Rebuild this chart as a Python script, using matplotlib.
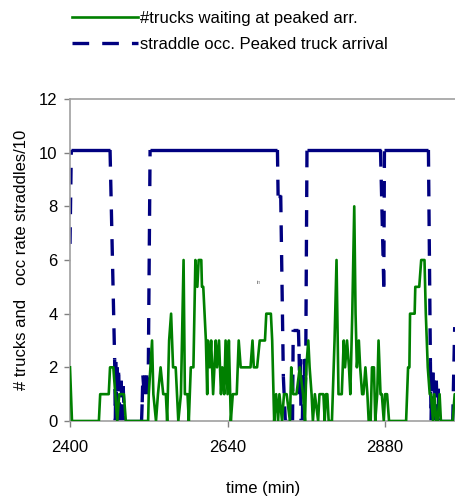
import numpy as np
import matplotlib
matplotlib.use("Agg")
import matplotlib.pyplot as plt
from matplotlib.collections import LineCollection
from matplotlib.lines import Line2D

plt.rcParams['font.family'] = ['Liberation Sans', 'DejaVu Sans']
plt.rcParams['lines.scale_dashes'] = False

# trucks waiting at peaked arrival (time in min, count)
green_t = [2400, 2403, 2444, 2446, 2459, 2461, 2466, 2469, 2472, 2475, 2482, 2485,
           2519, 2520, 2525, 2527, 2531, 2534, 2538, 2542, 2546, 2548, 2551, 2554,
           2557, 2561, 2565, 2569, 2573, 2575, 2579, 2581, 2584, 2588, 2591, 2594,
           2596, 2600, 2601, 2603, 2605, 2607, 2609, 2610, 2613, 2615, 2618, 2620,
           2622, 2624, 2627, 2630, 2632, 2635, 2637, 2640, 2642, 2645, 2648, 2654,
           2657, 2660, 2675, 2678, 2680, 2685, 2689, 2697, 2699, 2706, 2708, 2711,
           2714, 2717, 2719, 2723, 2726, 2730, 2735, 2737, 2740, 2745, 2750, 2755,
           2758, 2760, 2763, 2765, 2768, 2770, 2773, 2778, 2780, 2786, 2788, 2790,
           2792, 2794, 2799, 2803, 2806, 2809, 2814, 2817, 2819, 2822, 2825, 2827,
           2830, 2833, 2835, 2837, 2840, 2842, 2845, 2847, 2850, 2853, 2855, 2858,
           2860, 2863, 2865, 2868, 2870, 2873, 2875, 2878, 2880, 2883, 2886, 2912,
           2915, 2917, 2918, 2925, 2926, 2932, 2935, 2940, 2942, 2945, 2948, 2950,
           2953, 2955, 2958, 2960, 2963, 2965, 2983, 2986, 2990]
green_v = [2, 0, 0, 1, 1, 2, 2, 1, 0, 1, 1, 0,
           0, 1, 3, 1, 0, 1, 2, 1, 1, 0, 3, 4,
           2, 2, 0, 1, 6, 1, 1, 0, 2, 2, 6, 5,
           6, 6, 5, 5, 4, 3, 1, 3, 2, 3, 1, 2,
           3, 2, 3, 1, 2, 1, 3, 1, 3, 0, 1, 1,
           3, 2, 2, 3, 2, 2, 3, 3, 4, 4, 3, 0,
           1, 0, 1, 0, 1, 1, 0, 2, 1, 1, 2, 1,
           0, 2, 3, 2, 1, 0, 1, 0, 1, 1, 0, 1,
           1, 0, 0, 3, 6, 1, 1, 3, 2, 3, 2, 1,
           4, 8, 4, 2, 3, 2, 1, 1, 2, 1, 0, 0,
           2, 2, 0, 1, 3, 1, 1, 0, 1, 1, 0, 0,
           2, 2, 4, 4, 5, 5, 6, 6, 4, 2, 1, 1,
           0, 1, 0, 0, 1, 0, 0, 1, 1]

# straddle occupancy rate / 10, peaked truck arrival
blue_t = [2400, 2402, 2461, 2468, 2469, 2470, 2471, 2472, 2473, 2474, 2476, 2478,
          2480, 2481, 2483, 2509, 2510, 2511, 2513, 2514, 2516, 2517, 2519, 2522,
          2716, 2717, 2721, 2725, 2728, 2739, 2740, 2748, 2749, 2750, 2751, 2752,
          2754, 2755, 2756, 2757, 2758, 2759, 2761, 2873, 2878, 2879, 2946, 2949,
          2950, 2951, 2952, 2953, 2954, 2955, 2957, 2958, 2960, 2961, 2962, 2983,
          2986, 2990]
blue_v = [6.6, 10.1, 10.1, 2.3, 0, 2.2, 0.3, 2.0, 0, 1.8, 0, 1.5,
          0, 1.3, 0, 0, 0.7, 1.7, 1.0, 1.7, 1.0, 1.7, 1.0, 10.1,
          10.1, 8.4, 8.4, 1.65, 0, 0, 3.4, 3.4, 2.5, 1.0, 2.3, 0,
          0, 1.7, 1.0, 2.3, 1.0, 1.7, 10.1, 10.1, 5.0, 10.1, 10.1, 2.2,
          0, 1.8, 0.3, 1.8, 0, 1.5, 0, 1.5, 0, 1.2, 0, 0,
          3.5, 3.5]

labels = ['#trucks waiting at peaked arr.', 'straddle occ. Peaked truck arrival']
x_ticks = [2400, 2640, 2880]
y_ticks = [0, 2, 4, 6, 8, 10, 12]

green = '#008000'
navy = '#000080'
dash = (0, (12, 9.4))

fig = plt.figure(figsize=(4.56, 4.98), dpi=100)
ax = fig.add_axes([70 / 456, 77 / 498, 386 / 456, 322 / 498])

ax.plot(green_t, green_v, color=green, lw=1.9, zorder=3)

# Excel starts the dash again on every segment, so flat runs look solid
segs = []
styles = []
for i in range(len(blue_t) - 1):
    segs.append([(blue_t[i], blue_v[i]), (blue_t[i + 1], blue_v[i + 1])])
    styles.append('solid' if blue_v[i] == blue_v[i + 1] else dash)
lc = LineCollection(segs, colors=navy, linewidths=2.4, linestyles=styles,
                    capstyle='butt', zorder=2)
ax.add_collection(lc)

ax.text(2684, 5.1, 'in', fontsize=4, color='#808080')

ax.set_xlim(2400, 2988)
ax.set_ylim(0, 12)
ax.set_xticks(x_ticks)
ax.set_yticks(y_ticks)
ax.tick_params(direction='out', length=4, width=1, color='#808080',
               labelsize=12, pad=5)
ax.tick_params(axis='x', pad=10)
for side in ['left', 'bottom', 'top']:
    ax.spines[side].set_color('#a0a0a0')
    ax.spines[side].set_linewidth(1.2)
ax.spines['right'].set_visible(False)

ax.set_xlabel('time (min)', fontsize=12)
ax.set_ylabel('# trucks and   occ rate straddles/10', fontsize=12)
ax.xaxis.set_label_coords(0.5, -0.185)
ax.yaxis.set_label_coords(-0.105, 0.5)

handles = [Line2D([], [], color=green, lw=1.9),
           Line2D([], [], color=navy, lw=2.4, linestyle=dash, dash_capstyle='butt')]
fig.legend(handles, labels, loc='upper left', bbox_to_anchor=(72 / 456, 1 - 11 / 498),
           frameon=False, fontsize=12, handlelength=3.95, handletextpad=0.15,
           borderpad=0, borderaxespad=0, labelspacing=0.66)

fig.savefig('out.png', dpi=100)
